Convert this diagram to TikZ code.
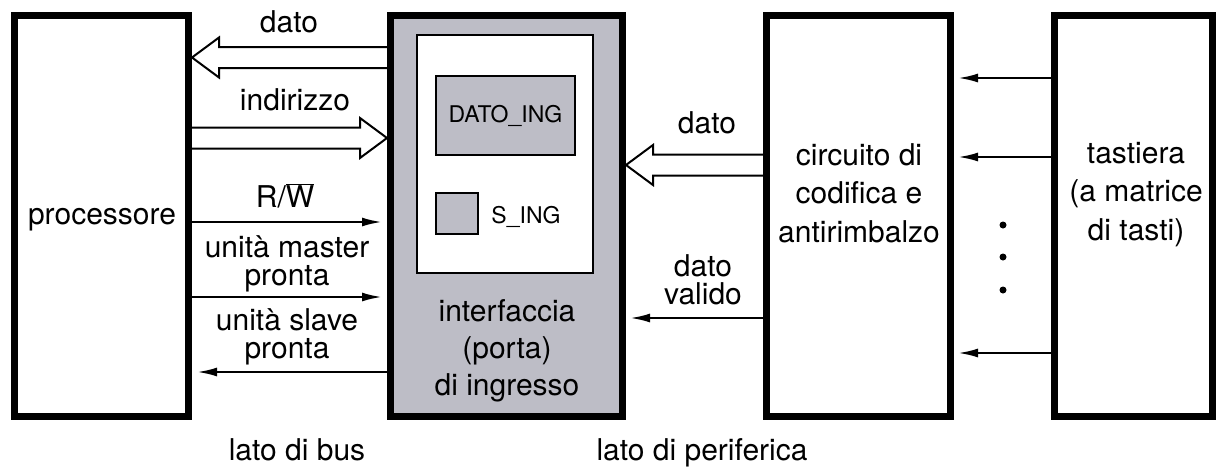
\documentclass[tikz,border=0pt]{standalone}
\usepackage{fontspec}
\setmainfont{TeX Gyre Heros}
\usetikzlibrary{arrows.meta,calc}
\definecolor{ifgrey}{RGB}{189,189,198}
\newcommand{\hollowArrow}[3]{%
  \draw[hollow] ($(#2)+(0,-10.5)$) -- ($(#1)+({#3*27},-10.5)$) -- ($(#1)+({#3*27},-20)$) -- (#1)
     -- ($(#1)+({#3*27},20)$) -- ($(#1)+({#3*27},10.5)$) -- ($(#2)+(0,10.5)$);}
\begin{document}
\begin{tikzpicture}[x=1pt,y=-1pt,
  every node/.style={font=\fontsize{30}{37}\selectfont, inner sep=0pt},
  bigbox/.style={draw, line width=7pt, minimum width=#1, minimum height=401pt},
  sig/.style={line width=2.4pt, -{Latex[length=20pt,width=9pt]}},
  hollow/.style={line width=2pt, line join=miter},
  txt/.style={anchor=base, align=center},
  lbl/.style={anchor=base, align=center, font=\fontsize{30}{28}\selectfont},
  small/.style={font=\fontsize{23}{28}\selectfont}
]
\path[use as bounding box] (0,0) rectangle (1216,472);

% boxes
\node[bigbox=174pt] (proc) at (101.5,216) {};
\node[bigbox=232pt, fill=ifgrey] (iface) at (506.5,216) {};
\node[draw, line width=2.5pt, fill=white, minimum width=176pt, minimum height=238pt] (inner) at (505,154) {};
\node[draw, line width=2.5pt, fill=ifgrey, minimum width=139pt, minimum height=79pt, small] (datoing) at (505.5,115.5) {DATO\_ING};
\node[draw, line width=2.5pt, fill=ifgrey, minimum width=42pt, minimum height=41pt] (sing) at (457,213.5) {};
\node[small, anchor=base] (singt) at (526,223) {S\_ING};
\node[bigbox=184pt] (circ) at (858.5,216) {};
\node[bigbox=158pt] (tast) at (1133.5,216) {};

% box texts (base = baseline of last line)
\node[txt] (proct) at (102,224) {processore};
\node[txt] (ifacet) at (507,395) {interfaccia\\(porta)\\di ingresso};
\node[txt, font=\fontsize{30}{38.5}\selectfont] (circt) at (859,242) {circuito di\\codifica e\\antirimbalzo};
\node[txt, font=\fontsize{30}{38.5}\selectfont] (tastt) at (1136,240) {tastiera\\(a matrice\\di tasti)};

% labels
\node[txt] (l1) at (289,32) {dato};
\node[txt] (l2) at (295,110) {indirizzo};
\node[txt] (l3) at (285,207) {R/$\overline{\hbox{W}}$};
\node[lbl] (l4) at (287,285) {unità master\\pronta};
\node[lbl] (l5) at (287,358) {unità slave\\pronta};
\node[txt] (l6) at (297,460) {lato di bus};
\node[txt] (l7) at (707,133) {dato};
\node[lbl] (l8) at (703,304) {dato\\valido};
\node[txt] (l9) at (702,460) {lato di periferica};

% hollow (bus) arrows
\coordinate (a1) at (proc.east |- 0,57.5);
\hollowArrow{a1}{iface.west |- a1}{1}
\coordinate (a2) at (iface.west |- 0,138);
\hollowArrow{a2}{proc.east |- a2}{-1}
\coordinate (a3) at (iface.east |- 0,165);
\hollowArrow{a3}{circ.west |- a3}{1}

% signal arrows
\draw[sig, shorten >=5pt] (proc.east |- 0,222) -- (iface.west |- 0,222);
\draw[sig, shorten >=5pt] (proc.east |- 0,297) -- (iface.west |- 0,297);
\draw[sig, shorten >=5pt] (iface.west |- 0,372) -- (proc.east |- 0,372);
\draw[sig, shorten >=4pt] (circ.west |- 0,318) -- (iface.east |- 0,318);
\draw[sig, shorten >=4pt] (tast.west |- 0,78) -- (circ.east |- 0,78);
\draw[sig, shorten >=4pt] (tast.west |- 0,157) -- (circ.east |- 0,157);
\draw[sig, shorten >=4pt] (tast.west |- 0,353) -- (circ.east |- 0,353);

% dots
\fill (1003,225) circle (3.5pt);
\fill (1003,257) circle (3.5pt);
\fill (1003,290) circle (3.5pt);
\end{tikzpicture}
\end{document}
